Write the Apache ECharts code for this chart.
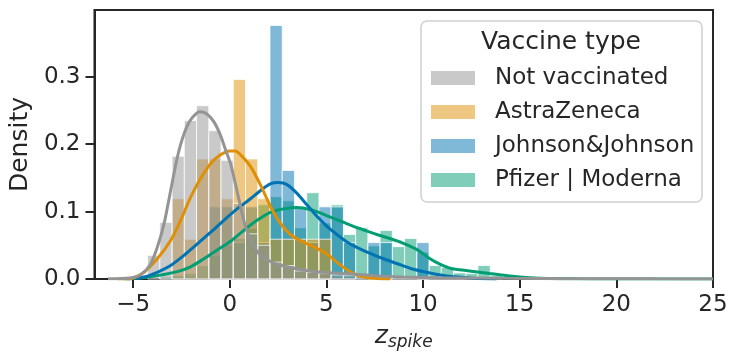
<!DOCTYPE html>
<html>
<head>
<meta charset="utf-8">
<script src="https://cdn.jsdelivr.net/npm/echarts@6/dist/echarts.min.js"></script>
<style>
  html, body { margin: 0; padding: 0; background: #fff; }
  #chart { width: 737px; height: 362px; }
</style>
</head>
<body>
<div id="chart"></div>
<script>
// 直方图分箱边界 (z_spike)
const binEdges = [-4.25, -3.617, -2.984, -2.351, -1.718, -1.085, -0.452, 0.181, 0.814, 1.447,
  2.08, 2.713, 3.346, 3.979, 4.612, 5.245, 5.878, 6.511, 7.144, 7.777,
  8.41, 9.043, 9.676, 10.309, 10.942, 11.575, 12.208, 12.841, 13.474, 14.107]

// 各组直方图密度
const notVaccHist = [0.035, 0.084, 0.182, 0.235, 0.257, 0.220, 0.176, 0.112, 0.067, 0.050,
  0.025, 0.020, 0.012, 0.010, 0.008, 0.006, 0.005, 0.004, 0.003, 0.003,
  0.002, 0.002, 0.002, 0.001, 0.001, 0.001, 0.001, 0, 0]
const astraHist = [0, 0, 0.119, 0.059, 0.178, 0.178, 0.119, 0.296, 0.178, 0.119,
  0.059, 0.059, 0.059, 0.059, 0.059, 0, 0, 0, 0, 0,
  0, 0, 0, 0, 0, 0, 0, 0, 0]
const jjHist = [0, 0, 0, 0, 0, 0.107, 0.107, 0.054, 0.107, 0.054,
  0.376, 0.161, 0.107, 0.054, 0.107, 0.107, 0.054, 0, 0.054, 0.054,
  0, 0, 0.054, 0, 0, 0, 0, 0, 0]
const pfizerHist = [0, 0.003, 0.005, 0.008, 0.020, 0.035, 0.050, 0.060, 0.075, 0.110,
  0.122, 0.116, 0.076, 0.128, 0.083, 0.110, 0.066, 0.076, 0.049, 0.072,
  0.048, 0.060, 0.040, 0.020, 0.017, 0.009, 0.008, 0.020, 0.005]

// KDE 曲线 [x, density]
const notVaccKde = [[-6.3, 0.0004], [-5.6, 0.0008], [-5.1, 0.0018], [-4.6, 0.0065], [-4.1, 0.022],
  [-3.75, 0.047], [-3.4, 0.082], [-3.06, 0.131], [-2.71, 0.181], [-2.37, 0.215], [-2.0, 0.237],
  [-1.55, 0.248], [-1.2, 0.245], [-0.82, 0.233], [-0.48, 0.213], [-0.2, 0.19], [0.05, 0.17],
  [0.3, 0.14], [0.55, 0.108], [0.81, 0.078], [1.07, 0.058], [1.5, 0.038], [2.1, 0.026],
  [2.7, 0.020], [3.3, 0.016], [4.1, 0.012], [5.0, 0.0095], [6.3, 0.0074], [7.5, 0.005],
  [9, 0.003], [11, 0.002], [14, 0.0012], [18, 0.0005], [22, 0.0002], [25, 0.0001]]
const astraKde = [[-5.8, 0], [-5.0, 0.0015], [-4.44, 0.010], [-3.75, 0.030], [-3.06, 0.057],
  [-2.54, 0.087], [-2.03, 0.121], [-1.51, 0.149], [-1.0, 0.171], [-0.5, 0.184], [0.0, 0.19],
  [0.3, 0.19], [0.6, 0.183], [1.07, 0.167], [1.58, 0.14], [2.1, 0.108], [2.61, 0.083],
  [3.13, 0.066], [3.65, 0.057], [4.33, 0.048], [5.03, 0.037], [5.71, 0.021], [6.4, 0.008],
  [7.1, 0.002], [7.8, 0.0003], [8.3, 0]]
const jjKde = [[-5.3, 0], [-4.44, 0.003], [-3.75, 0.010], [-3.06, 0.020], [-2.37, 0.035],
  [-1.68, 0.052], [-1.0, 0.069], [-0.31, 0.087], [0.38, 0.104], [1.07, 0.119], [1.58, 0.131],
  [2.1, 0.141], [2.53, 0.143], [2.96, 0.14], [3.48, 0.127], [3.99, 0.11], [4.51, 0.093],
  [5.03, 0.078], [5.54, 0.066], [6.06, 0.055], [6.57, 0.047], [7.26, 0.038], [7.95, 0.03],
  [8.64, 0.023], [9.32, 0.016], [10.0, 0.011], [10.6, 0.0075], [11.4, 0.004], [12.4, 0.0015],
  [13.2, 0.0003], [13.8, 0]]
const pfizerKde = [[-5.5, 0], [-4.5, 0.002], [-3.75, 0.005], [-2.71, 0.011], [-2.03, 0.018],
  [-1.34, 0.03], [-0.65, 0.043], [0.04, 0.056], [0.72, 0.072], [1.41, 0.087], [2.1, 0.099],
  [2.79, 0.104], [3.48, 0.106], [4.16, 0.103], [4.85, 0.096], [5.54, 0.088], [6.23, 0.08],
  [6.91, 0.073], [7.6, 0.066], [8.29, 0.06], [8.98, 0.053], [9.67, 0.044], [10.36, 0.03],
  [10.87, 0.022], [11.4, 0.016], [12.4, 0.012], [13.45, 0.008], [14.48, 0.0045], [15.5, 0.002],
  [16.5, 0.0007], [18, 0.0002], [20, 0.0001], [25, 0]]

const xTicks = [-5, 0, 5, 10, 15, 20, 25]
const yTicks = [0, 0.1, 0.2, 0.3]

const groups = [
  { name: 'Not vaccinated', hist: notVaccHist, kde: notVaccKde, line: '#949494', fill: 'rgba(148,148,148,0.5)' },
  { name: 'AstraZeneca', hist: astraHist, kde: astraKde, line: '#de8f05', fill: 'rgba(222,143,5,0.5)' },
  { name: 'Johnson&Johnson', hist: jjHist, kde: jjKde, line: '#0173b2', fill: 'rgba(1,115,178,0.5)' },
  { name: 'Pfizer | Moderna', hist: pfizerHist, kde: pfizerKde, line: '#029e73', fill: 'rgba(2,158,115,0.5)' }
]

const font = 'DejaVu Sans'
const ink = '#262626'

function histSeries (g) {
  return {
    name: g.name,
    type: 'custom',
    data: g.hist.map((v, i) => [binEdges[i], binEdges[i + 1], v]),
    encode: { x: [0, 1], y: 2 },
    renderItem: function (params, api) {
      const h = api.value(2)
      if (!h) return null
      const p0 = api.coord([api.value(0), h])
      const p1 = api.coord([api.value(1), 0])
      return {
        type: 'rect',
        shape: { x: p0[0], y: p0[1], width: p1[0] - p0[0], height: p1[1] - p0[1] },
        style: { fill: g.fill, stroke: 'rgba(255,255,255,0.75)', lineWidth: 1 }
      }
    },
    z: 2
  }
}

function kdeSeries (g) {
  return {
    name: g.name,
    type: 'line',
    data: g.kde,
    showSymbol: false,
    smooth: 0.25,
    lineStyle: { color: g.line, width: 3 },
    itemStyle: { color: g.line },
    z: 3
  }
}

// 画图顺序与 seaborn 一致：反向叠放
const reversed = groups.slice().reverse()
const series = reversed.map(histSeries).concat(reversed.map(kdeSeries))

const chart = echarts.init(document.getElementById('chart'))
const option = {
  backgroundColor: '#fff',
  animation: false,
  grid: {
    left: 94, right: 24, top: 10, bottom: 83,
    show: true, borderColor: ink, borderWidth: 2
  },
  legend: {
    data: groups.map(g => ({ name: g.name, icon: 'rect', itemStyle: { color: g.fill } })),
    orient: 'vertical',
    left: 431,
    top: 65,
    padding: 0,
    itemWidth: 44,
    itemHeight: 14,
    itemGap: 8,
    selectedMode: false,
    textStyle: { fontFamily: font, fontSize: 23, color: ink, lineHeight: 26, padding: [0, 0, 0, 15] },
    z: 10
  },
  graphic: [
    {
      type: 'rect',
      z: 5,
      shape: { x: 421, y: 21, width: 281, height: 181, r: 6 },
      style: { fill: 'rgba(255,255,255,0.8)', stroke: '#d0d0d0', lineWidth: 1.5 }
    },
    {
      type: 'text',
      z: 10,
      x: 561,
      y: 42,
      style: { text: 'Vaccine type', font: '25px "DejaVu Sans"', fill: ink, align: 'center', verticalAlign: 'middle' }
    }
  ],
  xAxis: {
    type: 'value',
    min: -7,
    max: 25,
    name: '{z|z}{s|spike}',
    nameLocation: 'middle',
    nameGap: 36,
    nameTextStyle: {
      rich: {
        z: { fontFamily: font, fontStyle: 'italic', fontSize: 25, color: ink, lineHeight: 30 },
        s: { fontFamily: font, fontStyle: 'italic', fontSize: 17, color: ink, lineHeight: 30, padding: [12, 0, 0, 0] }
      }
    },
    axisLine: { show: true, onZero: false, lineStyle: { color: ink, width: 2 } },
    axisTick: { show: true, customValues: xTicks, length: 9, lineStyle: { color: ink, width: 2 } },
    axisLabel: {
      customValues: xTicks,
      margin: 15,
      fontFamily: font,
      fontSize: 23,
      color: ink,
      formatter: v => (v < 0 ? '\u2212' + Math.abs(v) : String(v))
    },
    splitLine: { show: false }
  },
  yAxis: {
    type: 'value',
    min: 0,
    max: 0.399,
    name: 'Density',
    nameLocation: 'middle',
    nameGap: 58,
    nameTextStyle: { fontFamily: font, fontSize: 25, color: ink },
    axisLine: { show: true, onZero: false, lineStyle: { color: ink, width: 2 } },
    axisTick: { show: true, customValues: yTicks, length: 9, lineStyle: { color: ink, width: 2 } },
    axisLabel: {
      customValues: yTicks,
      margin: 14,
      fontFamily: font,
      fontSize: 23,
      color: ink,
      formatter: v => v.toFixed(1)
    },
    splitLine: { show: false }
  },
  series: series
}
chart.setOption(option)
</script>
</body>
</html>
